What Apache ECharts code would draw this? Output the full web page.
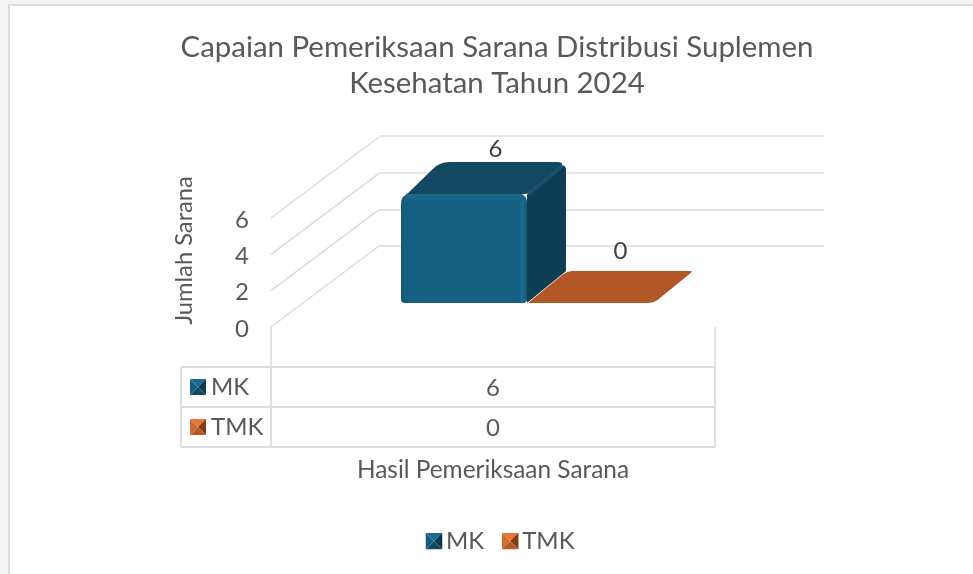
<!DOCTYPE html>
<html>
<head>
<meta charset="utf-8">
<style>html,body{margin:0;padding:0;background:#f4f5f5;}#c{width:973px;height:574px;}</style>
<script src="https://cdn.jsdelivr.net/npm/echarts@6/dist/echarts.min.js"></script>
</head>
<body>
<div id="c"></div>
<script>
const titleLines = ['Capaian Pemeriksaan Sarana Distribusi Suplemen', 'Kesehatan Tahun 2024'];
const categories = ['Hasil Pemeriksaan Sarana'];
const yAxisName = 'Jumlah Sarana';
const yTicks = [0, 2, 4, 6];
const seriesNames = ['MK', 'TMK'];
const mkValues = [6];
const tmkValues = [0];

const FONT = 'Lato';
const TXT = '#595959';
const GRID = '#dcdcdc';
const look = {
  MK:  {front:'#156082', edge:'#115773', hi:'#1a6a8f', ridge:'#14506c', top:'#124860', side:'#0e3d54', k:['#1a6a8f','#156082','#0c3a50','#0f4a64'], lab:[12,-13]},
  TMK: {front:'#b35726', edge:'#b35726', hi:'#b35726', ridge:'#b35726', top:'#b25726', side:'#8a421c', k:['#ea7636','#d06a2e','#7f3d18','#b85a28'], lab:[10,-20]}
};
function keyIcon(n){
  const k = look[n].k;
  const svg = "<svg xmlns='http://www.w3.org/2000/svg' width='48' height='48'>"
    + "<polygon points='0,0 48,0 24,24' fill='"+k[0]+"'/>"
    + "<polygon points='0,0 24,24 0,48' fill='"+k[1]+"'/>"
    + "<polygon points='48,0 48,48 24,24' fill='"+k[2]+"'/>"
    + "<polygon points='0,48 24,24 48,48' fill='"+k[3]+"'/></svg>";
  return 'data:image/svg+xml;charset=utf-8,' + encodeURIComponent(svg);
}
function rounded(pts, radii){
  const out = [];
  const n = pts.length;
  pts.forEach(function(p,i){
    const a = pts[(i+n-1)%n], b = pts[(i+1)%n], r = radii[i];
    const la = Math.hypot(a[0]-p[0],a[1]-p[1]), lb = Math.hypot(b[0]-p[0],b[1]-p[1]);
    const s = [p[0]+(a[0]-p[0])*r/la, p[1]+(a[1]-p[1])*r/la];
    const e = [p[0]+(b[0]-p[0])*r/lb, p[1]+(b[1]-p[1])*r/lb];
    for(let t=0;t<=6;t++){
      const u=t/6, v=1-u;
      out.push([v*v*s[0]+2*u*v*p[0]+u*u*e[0], v*v*s[1]+2*u*v*p[1]+u*u*e[1]]);
    }
  });
  return out;
}
// 3D projection constants
const BAR_W = 126, DX = 39, DY = 32, LEFT_GAP = 130, LIFT = 24;
const WALL_DX = 108, WALL_DY = 81;

function renderBar(params, api){
  const idx = params.seriesIndex;
  const name = seriesNames[idx];
  const st = look[name];
  const cs = params.coordSys;
  const v = api.value(1);
  const y0 = api.coord([0,0])[1] - LIFT;
  const y1 = api.coord([0,v])[1] - LIFT;
  const x0 = cs.x + LEFT_GAP + idx*(BAR_W+1);
  const x1 = x0 + BAR_W;
  const kids = [];
  const h = y0 - y1;
  const topPts = h>0
    ? rounded([[x0,y1+6],[x1,y1],[x1+DX,y1-DY],[x0+DX,y1-DY]], [2,3,9,10])
    : rounded([[x0,y1],[x1,y1],[x1+DX,y1-DY],[x0+DX,y1-DY]], [2,7,3,7]);
  kids.push({type:'polygon', shape:{points: topPts}, style:{fill:st.top}});
  if(h>0){
    kids.push({type:'polygon', shape:{points: rounded([[x1,y1],[x1+DX,y1-DY],[x1+DX,y0-DY],[x1,y0]], [2,9,1,1])}, style:{fill:st.side}});
    kids.push({type:'line', shape:{x1:x1+1,y1:y1+1,x2:x1+DX-3,y2:y1-DY+4}, style:{stroke:st.ridge,lineWidth:3}});
    kids.push({type:'polygon', shape:{points: rounded([[x0,y1],[x1,y1],[x1,y0],[x0,y0]], [10,9,4,4])},
      style:{fill:new echarts.graphic.LinearGradient(0,0,1,0,[
        {offset:0,color:st.edge},{offset:0.03,color:st.front},{offset:0.93,color:st.front},{offset:0.97,color:st.hi},{offset:1,color:st.edge}])}});
    kids.push({type:'rect', shape:{x:x0+5,y:y1,width:BAR_W-10,height:7},
      style:{fill:new echarts.graphic.LinearGradient(0,0,0,1,[{offset:0,color:st.hi},{offset:1,color:st.front}])}});
  }
  kids.push({type:'text', style:{text:String(v), x:(x0+x1+DX)/2+st.lab[0], y:y1-DY+st.lab[1], align:'center', verticalAlign:'middle', fill:'#404040', font:'24px '+FONT}});
  return {type:'group', children:kids};
}
function renderWalls(params, api){
  const cs = params.coordSys;
  return {type:'group', children: yTicks.map(function(t){
    const y = api.coord([0,t])[1];
    return {type:'line', shape:{x1:cs.x,y1:y,x2:cs.x+WALL_DX,y2:y-WALL_DY}, style:{stroke:GRID,lineWidth:1.5}};
  })};
}
// data table
const tbl = {l:181, c:271, r:715, rows:[367,407,447], mid:493};
const tableEls = [];
function hLine(y){ tableEls.push({type:'line',shape:{x1:tbl.l,y1:y,x2:tbl.r,y2:y},style:{stroke:GRID,lineWidth:1.8}}); }
function vLine(x){ tableEls.push({type:'line',shape:{x1:x,y1:tbl.rows[0],x2:x,y2:tbl.rows[2]},style:{stroke:GRID,lineWidth:1.8}}); }
tbl.rows.forEach(hLine); [tbl.l,tbl.c,tbl.r].forEach(vLine);
[mkValues, tmkValues].forEach(function(vals,i){
  const n = seriesNames[i], cy = (tbl.rows[i]+tbl.rows[i+1])/2;
  tableEls.push({type:'image',style:{image:keyIcon(n),x:190,y:cy-8,width:16,height:16}});
  tableEls.push({type:'text',style:{text:n,x:211,y:cy,verticalAlign:'middle',fill:TXT,font:'24px '+FONT}});
  tableEls.push({type:'text',style:{text:String(vals[0]),x:tbl.mid,y:cy+1,align:'center',verticalAlign:'middle',fill:TXT,font:'24px '+FONT}});
});
const frame = [
  {type:'rect',z:-10,shape:{x:9,y:5,width:980,height:590},style:{fill:'#ffffff',stroke:'#dcdcdc',lineWidth:2}}
];

const chart = echarts.init(document.getElementById('c'), null, {renderer:'canvas'});
chart.setOption({
  animation:false,
  backgroundColor:'transparent',
  graphic:{elements:frame.concat(tableEls)},
  title:{text:titleLines.join('\n'),left:492,top:25,textAlign:'center',
    textStyle:{fontFamily:FONT,fontWeight:'normal',fontSize:29.4,lineHeight:36,color:TXT}},
  legend:{data:seriesNames.map(function(n){return {name:n,icon:'image://'+keyIcon(n)};}),
    left:420,top:524,itemWidth:18,itemHeight:17,itemGap:17,
    textStyle:{fontFamily:FONT,fontSize:24,color:TXT,padding:[0,0,0,-2]}},
  grid:[
    {left:271,width:444,top:218,height:109,containLabel:false},
    {left:379,width:445,top:136,height:110,containLabel:false}
  ],
  xAxis:[
    {type:'category',gridIndex:0,data:categories,name:categories[0],nameLocation:'middle',nameGap:131,
     nameTextStyle:{fontFamily:FONT,fontSize:24.4,color:TXT},
     axisLine:{show:false},axisLabel:{show:false},
     axisTick:{show:true,length:40,lineStyle:{color:GRID,width:1.5}}},
    {type:'category',gridIndex:1,data:categories,axisLine:{show:false},axisLabel:{show:false},axisTick:{show:false}}
  ],
  yAxis:[
    {type:'value',gridIndex:0,min:0,max:6,interval:2,name:yAxisName,nameLocation:'middle',nameRotate:90,nameGap:75,
     nameTextStyle:{fontFamily:FONT,fontSize:23.7,color:TXT,padding:[0,0,0,44]},
     axisLine:{show:false},axisTick:{show:false},splitLine:{show:false},
     axisLabel:{fontFamily:FONT,fontSize:24,color:TXT,margin:22,verticalAlign:'top',lineHeight:24,padding:[-10,0,0,0]}},
    {type:'value',gridIndex:1,min:0,max:6,interval:2,axisLine:{show:false},axisTick:{show:false},axisLabel:{show:false},
     splitLine:{show:true,lineStyle:{color:GRID,width:1.5}}}
  ],
  series:[
    {name:seriesNames[0],type:'custom',xAxisIndex:0,yAxisIndex:0,z:5,clip:false,renderItem:renderBar,
     data:mkValues.map(function(v,i){return [i,v];}),encode:{x:0,y:1}},
    {name:seriesNames[1],type:'custom',xAxisIndex:0,yAxisIndex:0,z:4,clip:false,renderItem:renderBar,
     data:tmkValues.map(function(v,i){return [i,v];}),encode:{x:0,y:1}},
    {name:'walls',type:'custom',xAxisIndex:0,yAxisIndex:0,z:1,clip:false,renderItem:renderWalls,
     data:[[0,0]],encode:{x:0,y:1}}
  ]
});
</script>
</body>
</html>
